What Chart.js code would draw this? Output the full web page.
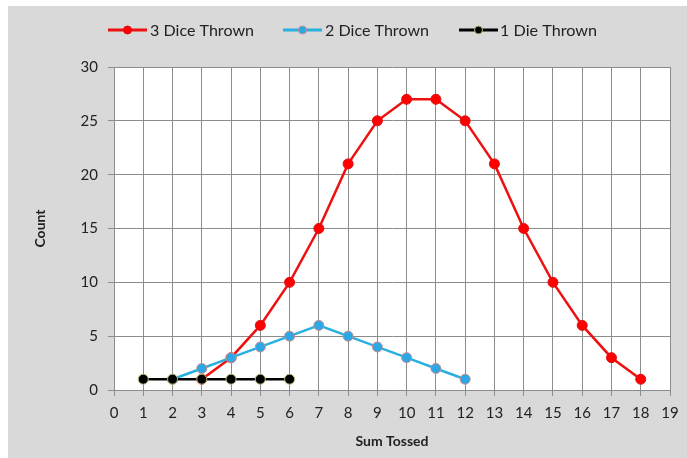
<!DOCTYPE html>
<html>
<head>
<meta charset="utf-8">
<script src="https://cdn.jsdelivr.net/npm/chart.js@4"></script>
<style>
  html, body { margin: 0; padding: 0; background: #ffffff; }
  #frame { position: absolute; left: 8px; top: 6px; width: 679px; height: 452px; background: #d9d9d9; }
  canvas { display: block; }
</style>
</head>
<body>
<div id="frame"><canvas id="c" width="679" height="452"></canvas></div>
<script>
// Number of ways to roll each sum
const sums3 = [3, 4, 5, 6, 7, 8, 9, 10, 11, 12, 13, 14, 15, 16, 17, 18];
const counts3 = [1, 3, 6, 10, 15, 21, 25, 27, 27, 25, 21, 15, 10, 6, 3, 1];
const sums2 = [2, 3, 4, 5, 6, 7, 8, 9, 10, 11, 12];
const counts2 = [1, 2, 3, 4, 5, 6, 5, 4, 3, 2, 1];
const sums1 = [1, 2, 3, 4, 5, 6];
const counts1 = [1, 1, 1, 1, 1, 1];
const seriesNames = ['3 Dice Thrown', '2 Dice Thrown', '1 Die Thrown'];

const FONT = 'Lato, "Liberation Sans", sans-serif';
const toPoints = (xs, ys) => xs.map((x, i) => ({ x: x, y: ys[i] }));

const styles = [
  { line: '#ee1111', fill: '#ff0000', border: '#e01010' },
  { line: '#29b0e0', fill: '#2aa9e6', border: '#d08a8a' },
  { line: '#000000', fill: '#000000', border: '#b8bc78' }
];

// Legend drawn as line-with-marker swatches in a single row
const legendPlugin = {
  id: 'rowLegend',
  afterDraw(chart) {
    const ctx = chart.ctx;
    const items = [
      { x0: 100, text: 142, w: 104 },
      { x0: 275, text: 317, w: 104 },
      { x0: 451, text: 492, w: 97 }
    ];
    const y = 24;
    ctx.save();
    ctx.font = '15px ' + FONT;
    ctx.textBaseline = 'middle';
    items.forEach((it, i) => {
      const s = styles[i];
      ctx.strokeStyle = s.line;
      ctx.lineWidth = 3;
      ctx.beginPath();
      ctx.moveTo(it.x0, y);
      ctx.lineTo(it.x0 + 39, y);
      ctx.stroke();
      ctx.beginPath();
      ctx.arc(it.x0 + 19.5, y, 4, 0, Math.PI * 2);
      ctx.fillStyle = s.fill;
      ctx.fill();
      ctx.lineWidth = 1;
      ctx.strokeStyle = s.border;
      ctx.stroke();
      ctx.fillStyle = '#222222';
      // stretch the label horizontally to its slot width
      const natural = ctx.measureText(seriesNames[i]).width;
      ctx.save();
      ctx.translate(it.text, y + 1);
      ctx.scale(it.w / natural, 1);
      ctx.fillText(seriesNames[i], 0, 0);
      ctx.restore();
    });
    ctx.restore();
  }
};

const plotBg = {
  id: 'plotBg',
  beforeDraw(chart) {
    const a = chart.chartArea;
    chart.ctx.save();
    chart.ctx.fillStyle = '#ffffff';
    chart.ctx.fillRect(a.left, a.top, a.right - a.left, a.bottom - a.top);
    chart.ctx.restore();
  }
};

const mk = (name, xs, ys, s) => ({
  label: name,
  data: toPoints(xs, ys),
  borderColor: s.line,
  backgroundColor: s.fill,
  pointBackgroundColor: s.fill,
  pointBorderColor: s.border,
  pointBorderWidth: 1,
  pointRadius: 5,
  borderWidth: 2.5,
  tension: 0,
  fill: false
});

new Chart(document.getElementById('c'), {
  type: 'line',
  data: {
    datasets: [
      mk(seriesNames[2], sums1, counts1, styles[2]),
      mk(seriesNames[1], sums2, counts2, styles[1]),
      mk(seriesNames[0], sums3, counts3, styles[0])
    ]
  },
  options: {
    responsive: false,
    animation: false,
    events: [],
    layout: { padding: { top: 61, right: 17, left: 24, bottom: 0 } },
    plugins: { legend: { display: false }, tooltip: { enabled: false } },
    scales: {
      x: {
        type: 'linear',
        min: 0, max: 19,
        afterFit(scale) { scale.height = 68; },
        ticks: { stepSize: 1, color: '#222222', font: { family: FONT, size: 15 }, padding: 8, maxRotation: 0, autoSkip: false },
        grid: { color: '#8c8c8c', lineWidth: 1, tickLength: 6 },
        border: { color: '#8c8c8c', width: 1 },
        title: { display: true, text: 'Sum Tossed', color: '#222222', font: { family: FONT, size: 14, weight: 'bold' }, padding: { top: 4, bottom: 8 } }
      },
      y: {
        min: 0, max: 30,
        afterFit(scale) { scale.width = 82; },
        ticks: { stepSize: 5, color: '#222222', font: { family: FONT, size: 15 }, padding: 10 },
        grid: { color: '#8c8c8c', lineWidth: 1, tickLength: 6 },
        border: { color: '#8c8c8c', width: 1 },
        title: { display: true, text: 'Count', color: '#222222', font: { family: FONT, size: 14, weight: 'bold' }, padding: { top: 0, bottom: 0 } }
      }
    }
  },
  plugins: [plotBg, legendPlugin]
});
</script>
</body>
</html>
